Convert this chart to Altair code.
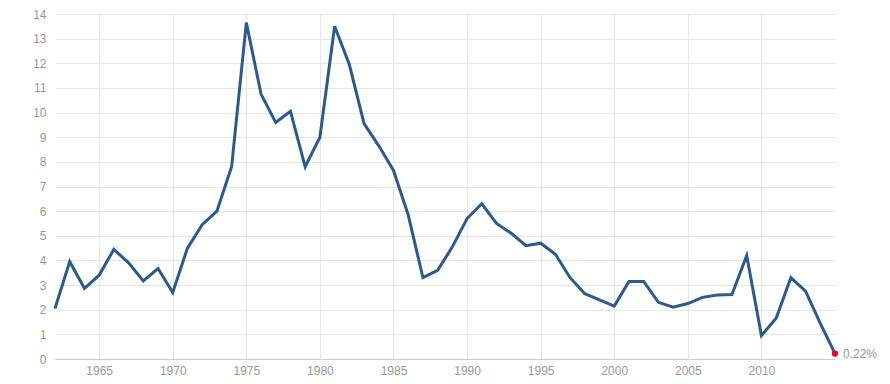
import altair as alt
import pandas as pd

years = list(range(1962, 2016))
values = [2.05, 3.95, 2.87, 3.4, 4.45, 3.9, 3.17, 3.67, 2.7, 4.5,
          5.45, 6.0, 7.8, 13.65, 10.75, 9.6, 10.05, 7.8, 9.0, 13.5,
          11.95, 9.55, 8.65, 7.65, 5.85, 3.3, 3.6, 4.55, 5.7, 6.3,
          5.5, 5.1, 4.6, 4.7, 4.25, 3.3, 2.65, 2.4, 2.15, 3.15,
          3.15, 2.3, 2.1, 2.25, 2.5, 2.6, 2.62, 4.2, 0.95, 1.65,
          3.3, 2.75, 1.45, 0.22]
x_ticks = [1965, 1970, 1975, 1980, 1985, 1990, 1995, 2000, 2005, 2010]
y_ticks = list(range(0, 15))
last_label = "0.22%"

df = pd.DataFrame({"year": years, "value": values})
last = pd.DataFrame({"year": [years[-1]], "value": [values[-1]], "label": [last_label]})

font = "Liberation Sans"
x = alt.X("year:Q", scale=alt.Scale(domain=[1962, 2015], nice=False, zero=False),
          axis=alt.Axis(values=x_ticks, format="d", title=None, grid=True,
                        gridColor="#e6e6e6", ticks=False, domainColor="#cccccc",
                        labelColor="#999999", labelFontSize=12, labelFont=font,
                        labelPadding=6, labelOverlap=False))
y = alt.Y("value:Q", scale=alt.Scale(domain=[0, 14], nice=False),
          axis=alt.Axis(values=y_ticks, title=None, grid=True, gridColor="#e6e6e6",
                        ticks=False, domain=False, labelColor="#999999",
                        labelFontSize=12, labelFont=font, labelPadding=9,
                        labelOverlap=False, labelFlush=False))

line = alt.Chart(df).mark_line(color="#2c5a8c", strokeWidth=3).encode(x=x, y=y)
pt = alt.Chart(last).mark_circle(color="#e8002a", size=40, opacity=1).encode(
    x=x, y=y)
txt = alt.Chart(last).mark_text(align="left", dx=8, color="#999999",
                                fontSize=12, font=font).encode(
    x=x, y=y, text="label:N")

chart = (line + pt + txt).properties(
    width=780, height=345,
    autosize=alt.AutoSizeParams(type="none"),
    padding={"left": 47, "top": 6, "right": 47, "bottom": 20},
).configure_view(stroke=None)

chart.save("out.html", embed_options={"renderer": "svg", "actions": False})
